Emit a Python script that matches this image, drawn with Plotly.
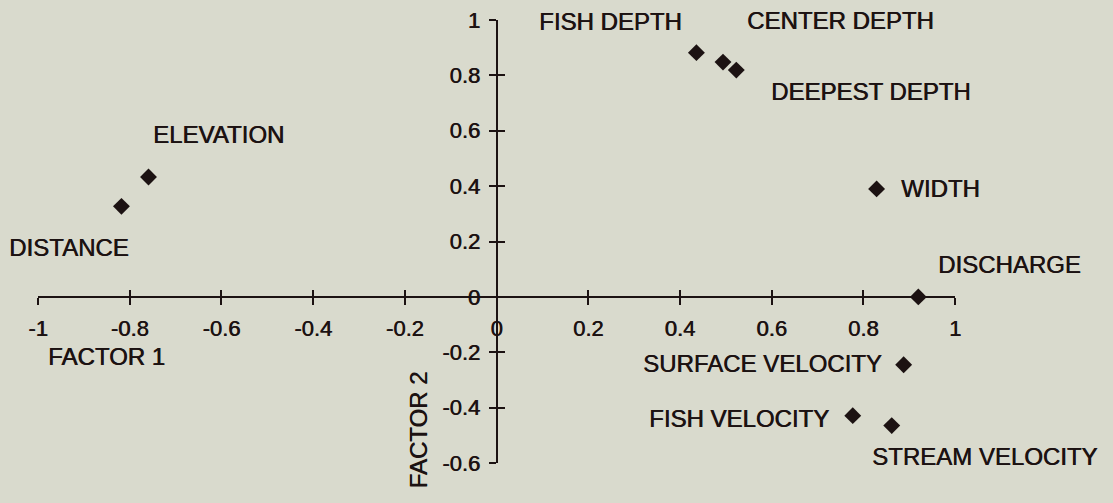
import plotly.graph_objects as go

# ---- data ----
variables = ["FISH DEPTH", "CENTER DEPTH", "DEEPEST DEPTH", "WIDTH", "DISCHARGE",
             "SURFACE VELOCITY", "FISH VELOCITY", "STREAM VELOCITY", "ELEVATION", "DISTANCE"]
factor1 = [0.436, 0.494, 0.523, 0.829, 0.920, 0.888, 0.777, 0.862, -0.759, -0.818]
factor2 = [0.882, 0.848, 0.819, 0.390, 0.000, -0.245, -0.429, -0.465, 0.433, 0.327]

x_ticks = [-1, -0.8, -0.6, -0.4, -0.2, 0, 0.2, 0.4, 0.6, 0.8, 1]
x_tick_text = ["-1", "-0.8", "-0.6", "-0.4", "-0.2", "0", "0.2", "0.4", "0.6", "0.8", "1"]
y_ticks = [-0.6, -0.4, -0.2, 0, 0.2, 0.4, 0.6, 0.8, 1]
y_tick_text = ["-0.6", "-0.4", "-0.2", "0", "0.2", "0.4", "0.6", "0.8", "1"]

x_title = "FACTOR 1"
y_title = "FACTOR 2"

# ---- layout / style (pixel offsets of each label from its point) ----
label_shift = {
    "FISH DEPTH": (-86, 31),
    "CENTER DEPTH": (117, 42),
    "DEEPEST DEPTH": (135, -21),
    "WIDTH": (64, 0),
    "DISCHARGE": (91, 32),
    "SURFACE VELOCITY": (-141, 1),
    "FISH VELOCITY": (-114, -3),
    "STREAM VELOCITY": (93, -31),
    "ELEVATION": (70, 42),
    "DISTANCE": (-52, -41),
}

INK = "#1c1212"
BG = "#d9dacd"
FONT = "Liberation Sans, Arial, sans-serif"
LABEL_SIZE = 24
SHADOW = "0.6px 0px 0px " + INK
XR = [-1, 1]
YR = [-0.6, 1]
x_axis_pos = (0 - YR[0]) / (YR[1] - YR[0])
y_axis_pos = (0 - XR[0]) / (XR[1] - XR[0])

fig = go.Figure()
fig.add_trace(go.Scatter(
    x=factor1, y=factor2, mode="markers",
    marker=dict(symbol="diamond", size=13, color=INK, line=dict(width=0)),
    cliponaxis=False, hoverinfo="text", hovertext=variables, showlegend=False,
))
# invisible twin trace to create the overlay axes (for crossing tick marks)
fig.add_trace(go.Scatter(
    x=factor1, y=factor2, mode="markers", xaxis="x2", yaxis="y2",
    marker=dict(opacity=0), hoverinfo="skip", showlegend=False,
))

label_font = dict(family=FONT, size=LABEL_SIZE, color=INK, shadow=SHADOW)

for name, xv, yv in zip(variables, factor1, factor2):
    dx, dy = label_shift[name]
    fig.add_annotation(x=xv, y=yv, xref="x", yref="y", text=name, showarrow=False,
                       xshift=dx, yshift=dy, xanchor="center", yanchor="middle",
                       font=label_font)

fig.add_annotation(x=0.0752, y=0.240, xref="paper", yref="paper", text=x_title,
                   showarrow=False, xanchor="center", yanchor="middle", font=label_font)
fig.add_annotation(x=0.415, y=0.0745, xref="paper", yref="paper", text=y_title,
                   showarrow=False, textangle=-90, xanchor="center", yanchor="middle",
                   font=label_font)

axis_common = dict(showgrid=False, zeroline=False,
                   tickcolor=INK, tickwidth=1.6, ticklen=7, automargin=False)
tick_font = dict(family=FONT, size=22, color=INK, shadow=SHADOW)

fig.update_layout(
    width=1113, height=503,
    margin=dict(l=38, r=158, t=20, b=40, autoexpand=False),
    paper_bgcolor=BG, plot_bgcolor=BG,
    font=dict(family=FONT, size=22, color=INK),
    xaxis=dict(range=XR, anchor="free", position=x_axis_pos, tickmode="array",
               tickvals=x_ticks, ticktext=x_tick_text, ticks="outside",
               showline=True, linecolor=INK, linewidth=2, ticklabelstandoff=5,
               tickfont=tick_font, **axis_common),
    yaxis=dict(range=YR, anchor="free", position=y_axis_pos, tickmode="array",
               tickvals=y_ticks, ticktext=y_tick_text, ticks="outside",
               showline=True, linecolor=INK, linewidth=2, ticklabelstandoff=4,
               tickfont=tick_font, **axis_common),
    xaxis2=dict(range=XR, overlaying="x", anchor="free", position=x_axis_pos,
                tickmode="array", tickvals=x_ticks, ticks="inside", showline=False,
                showticklabels=False, **axis_common),
    yaxis2=dict(range=YR, overlaying="y", anchor="free", position=y_axis_pos,
                tickmode="array", tickvals=y_ticks, ticks="inside", showline=False,
                showticklabels=False, **axis_common),
)

fig.write_html(
    "out.html",
    config={"displayModeBar": False},
    post_script="document.body.style.margin='0';document.body.style.overflow='hidden';"
                "document.body.style.background='" + BG + "';",
)
